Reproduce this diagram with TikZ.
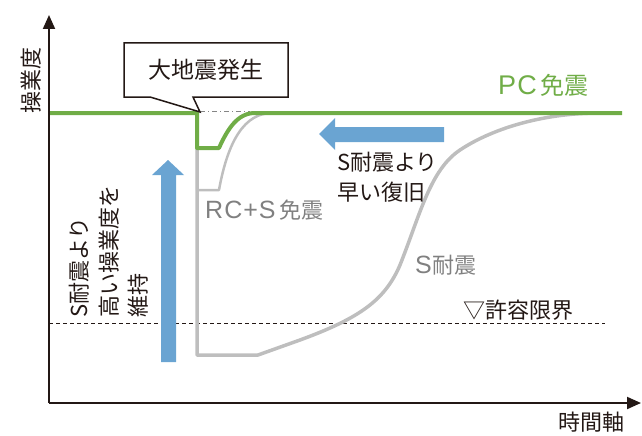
\documentclass[tikz,border=0pt]{standalone}
\usepackage{fontspec}
\setmainfont{Noto Sans CJK JP}
\newfontfamily\latinsp[LetterSpace=4]{Liberation Sans}
\usetikzlibrary{arrows.meta}
\definecolor{pcgreen}{RGB}{112,173,71}
\definecolor{lgray}{RGB}{190,190,190}
\definecolor{tgray}{RGB}{128,128,128}
\definecolor{ink}{RGB}{35,24,21}
\definecolor{arrowblue}{RGB}{106,164,210}
\newcommand{\latn}[2]{{\fontsize{#1}{#1}\latinsp #2}}
\tikzset{
  lbl/.style={inner sep=0pt, text=ink, font=\fontsize{22}{29.5}\selectfont},
  glbl/.style={lbl, text=tgray},
  axis/.style={line width=2pt, draw=ink, -{Triangle[length=14pt,width=12pt]}},
  bigarrow/.style={fill=arrowblue, draw=none},
}
\begin{document}
\begin{tikzpicture}[x=1pt,y=-1pt]
\useasboundingbox (0,0) rectangle (642,436);
% coordinates
\coordinate (O) at (49,403);
\coordinate (Ytop) at (49,15);
\coordinate (Xend) at (641,403);
% tolerance limit
\draw[ink, line width=0.8pt, dash pattern=on 4pt off 3pt] (49,323) -- (605,323);
% dash-dot reference
\draw[lgray!70!black, line width=0.6pt, dash pattern=on 5pt off 3pt on 1pt off 3pt] (200,111) -- (250,111);
% S-taishin curve
\draw[lgray, line width=3.5pt, line join=round]
  (197,130) -- (197,355) -- (258,355) -- (300,340)
  .. controls (360,318) and (385,300) .. (400,265)
  .. controls (420,215) and (430,170) .. (460,150)
  .. controls (490,130) and (540,113) .. (600,113);
% RC+S curve
\draw[lgray, line width=2.5pt, line join=round]
  (197,150) -- (197,190) -- (219,190)
  .. controls (228,140) and (245,113) .. (272,113);
% PC curve
\draw[pcgreen, line width=4pt, line join=round]
  (49,113) -- (197,113) -- (197,148) -- (219,148)
  .. controls (228,128) and (238,113) .. (255,113) -- (622,113);
% axes
\draw[axis] (O) -- (Ytop);
\draw[axis] (O) -- (Xend);
% callout
\draw[ink, fill=white, line width=1.5pt, line join=miter]
  (124,43) -- (288,43) -- (288,97) -- (193,97) -- (200,112) -- (150,97) -- (124,97) -- cycle;
\node[lbl, font=\fontsize{23}{28}\selectfont] (quake) at (206,70) {大地震発生};
% blue arrows
\fill[bigarrow] (161,362) -- (161,175) -- (152,175) -- (168,160) -- (184,175) -- (176,175) -- (176,362) -- cycle;
\fill[bigarrow] (444,127) -- (335,127) -- (335,118) -- (319,134) -- (335,150) -- (335,142) -- (444,142) -- cycle;
% labels
\node[lbl, rotate=90] (ylab) at (31,80) {操業度};
\node[lbl, text=pcgreen, anchor=west, font=\fontsize{24}{28}\selectfont] (pc) at (498,85) {\latn{27}{PC}\,免震};
\node[lbl, align=left, anchor=north west] (fast) at (337,152) {S耐震より\\早い復旧};
\node[glbl, anchor=west] (rcs) at (205,210) {\latn{25}{RC+S}\,免震};
\node[glbl, anchor=west] (sta) at (415,265) {\latn{25}{S}\kern1pt 耐震};
\node[lbl, anchor=west] (limit) at (463,310) {▽許容限界};
\node[lbl, anchor=east] (time) at (625,422) {時間軸};
\node[lbl, rotate=90, align=left, anchor=north west] (keep) at (69,318) {S耐震より\\高い操業度を\\維持};
\end{tikzpicture}
\end{document}
